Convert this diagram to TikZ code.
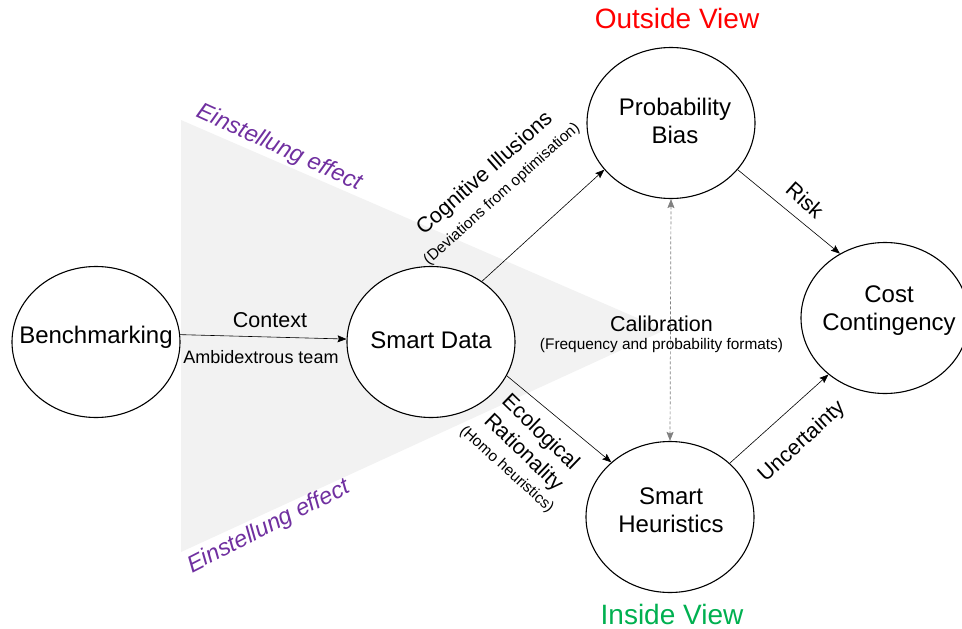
\documentclass[tikz,border=0pt]{standalone}
\usepackage{fontspec}
\setmainfont{Liberation Sans}
\usetikzlibrary{shapes.geometric,arrows.meta}
\definecolor{einst}{RGB}{112,48,160}
\definecolor{insidegreen}{RGB}{0,176,80}
\definecolor{wedge}{RGB}{242,242,242}

\begin{document}
\begin{tikzpicture}[x=1pt,y=-1pt,>={Stealth[length=9pt,width=7pt,inset=1.5pt]},
  main node/.style={ellipse,draw,line width=1.1pt,fill=white,minimum width=168pt,minimum height=151pt},
  inner text/.style={anchor=base,align=center,font=\fontsize{24}{28}\selectfont},
  conn label/.style={inner sep=1pt,font=\fontsize{21.5}{26}\selectfont},
  sub label/.style={inner sep=1pt,font=\fontsize{15.4}{18}\selectfont},
  effect/.style={einst,inner sep=1pt,font=\fontsize{23.5}{28}\selectfont\itshape},
  view label/.style={anchor=base,font=\fontsize{28}{32}\selectfont},
  link/.style={->,line width=0.6pt}]

  \useasboundingbox (0,0) rectangle (962,629);
  \fill[wedge] (181,120) -- (665,330) -- (181,552) -- cycle;

  \node[main node] (bm) at (96,342) {};
  \node[main node] (sd) at (431,342) {};
  \node[main node] (pb) at (671,123) {};
  \node[main node] (sh) at (670,517) {};
  \node[main node] (cc) at (885,318) {};

  % base = last line
  \node[inner text] (bmtext) at (96,343) {Benchmarking};
  \node[inner text] (sdtext) at (431,348) {Smart Data};
  \node[inner text] (pbtext) at (675,143) {Probability\\Bias};
  \node[inner text] (shtext) at (671,532) {Smart\\Heuristics};
  \node[inner text] (cctext) at (889,330) {Cost\\Contingency};

  \node[view label,red] (outside) at (677,28) {Outside View};
  \node[view label,insidegreen] (inside) at (672,624) {Inside View};

  \node[effect,rotate=-24.5] (einsttop) at (279,148) {Einstellung effect};
  \node[effect,rotate=27] (einstbottom) at (269,527) {Einstellung effect};

  % arrows
  \draw[link] (bm.5) -- (sd.178);
  \draw[link] (sd.50) -- (pb.215);
  \draw[link] (sd.-24) -- (sh.137);
  \draw[link] (pb.-35) -- (cc.125);
  \draw[link] (sh.42) -- (cc.225);
  \draw[<->,gray,line width=0.7pt,dash pattern=on 3pt off 2pt] (pb.south) -- (sh.north);

  % labels
  \node[conn label,anchor=base] (context) at (270,327) {Context};
  \node[anchor=base,inner sep=1pt,font=\fontsize{18}{21}\selectfont] (team) at (261,363) {Ambidextrous team};
  \node[conn label,anchor=base] (calib) at (661.5,331) {Calibration};
  \node[sub label,anchor=base] (formats) at (661.5,349) {(Frequency and probability formats)};
  \node[conn label,rotate=41.5] (illusions) at (485,174) {Cognitive Illusions};
  \node[sub label,rotate=42] (deviations) at (502,194) {(Deviations from optimisation)};
  \node[conn label,rotate=-44] (ecological) at (540,433) {Ecological};
  \node[conn label,rotate=-44] (rationality) at (523,453) {Rationality};
  \node[sub label,rotate=-42] (homo) at (506.5,469.5) {(Homo heuristics)};
  \node[conn label,rotate=-42] (risk) at (805,200) {Risk};
  \node[conn label,rotate=42.5] (uncertainty) at (802,442) {Uncertainty};
\end{tikzpicture}
\end{document}
